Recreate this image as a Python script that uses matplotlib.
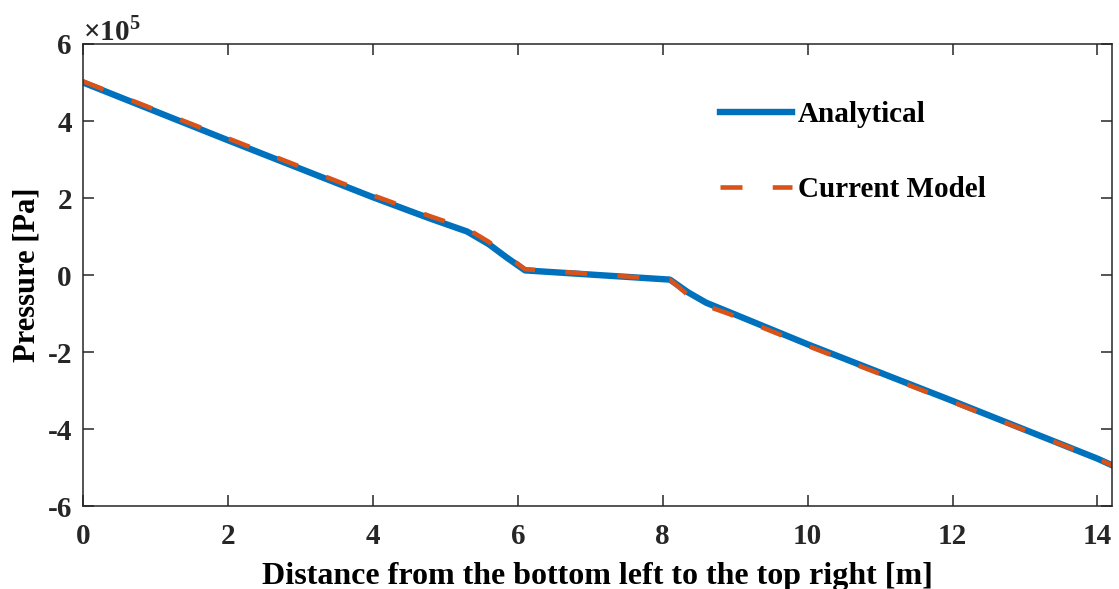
import numpy as np
import matplotlib
matplotlib.use("Agg")
import matplotlib.pyplot as plt

plt.rcParams['font.family'] = ['Liberation Serif', 'DejaVu Serif']
plt.rcParams['font.weight'] = 'bold'
plt.rcParams['mathtext.fontset'] = 'custom'
plt.rcParams['mathtext.rm'] = 'Liberation Serif:bold'
plt.rcParams['axes.unicode_minus'] = False

# pressure in units of 1e5 Pa along the diagonal
x_analytical = [0.0, 2.0, 4.0, 4.8, 5.3, 5.6, 5.85, 6.1, 8.1, 8.35, 8.6, 8.9, 10.0, 12.0, 14.0, 14.2]
p_analytical = [5.0, 3.5, 2.02, 1.46, 1.13, 0.8, 0.45, 0.12, -0.12, -0.45, -0.72, -0.95, -1.8, -3.27, -4.77, -4.94]

x_model = [0.0, 2.0, 4.0, 4.8, 5.3, 5.6, 5.85, 6.1, 8.1, 8.35, 8.6, 8.9, 10.0, 12.0, 14.0, 14.2]
p_model = [5.03, 3.55, 2.07, 1.52, 1.2, 0.86, 0.5, 0.15, -0.12, -0.52, -0.8, -1.0, -1.84, -3.3, -4.77, -4.94]

xticks = [0, 2, 4, 6, 8, 10, 12, 14]
yticks = [-6, -4, -2, 0, 2, 4, 6]

fig = plt.figure(figsize=(11.19, 5.89), dpi=100)
ax = fig.add_axes([0.0742, 0.1409, 0.9195, 0.7844])

ax.plot(x_analytical, p_analytical, color='#0072BD', lw=4.6, label='Analytical')
ax.plot(x_model, p_model, color='#D95319', lw=3.3, dashes=(4.8, 6.6),
        label='Current Model')

ax.set_xlim(0, 14.2)
ax.set_ylim(-6, 6)
ax.set_xticks(xticks)
ax.set_yticks(yticks)
ax.tick_params(direction='in', length=8, width=1.1, top=True, right=True,
               labelsize=21, colors='#262626')
ax.tick_params(axis='x', pad=12)
ax.tick_params(axis='y', pad=8)
for s in ax.spines.values():
    s.set_linewidth(1.1)
    s.set_color('#262626')

ax.set_xlabel('Distance from the bottom left to the top right [m]', fontsize=23,
              fontweight='bold', labelpad=9)
ax.set_ylabel('Pressure [Pa]', fontsize=22, fontweight='bold', labelpad=4)

ax.text(0.0, 1.009, r'$\times$10$^5$', transform=ax.transAxes, fontsize=21,
        ha='left', va='baseline', color='#262626')

ax.legend(loc='upper left', bbox_to_anchor=(0.594, 0.933), frameon=False,
          fontsize=21, handlelength=2.46, handletextpad=0.2, labelspacing=1.63)

fig.savefig('out.png', dpi=100)
